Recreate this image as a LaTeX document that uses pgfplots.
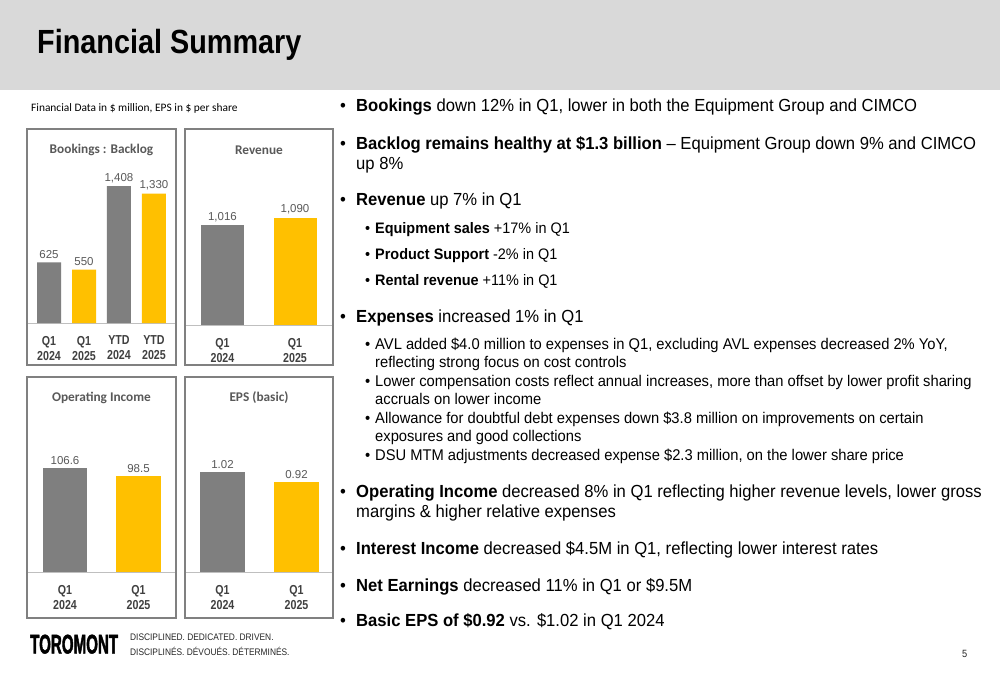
\documentclass[border=0pt]{standalone}
\usepackage{fontspec}
\setmainfont{Liberation Sans}
\newfontfamily\narrowfont[FakeStretch=0.82]{Liberation Sans}
\newfontfamily\bodyfont[FakeStretch=0.95]{Liberation Sans}
\newfontfamily\footfont[FakeStretch=0.88]{Liberation Sans}
\newfontfamily\titlefont[FakeStretch=0.86]{Liberation Sans}
\newfontfamily\logofont[FakeStretch=0.56,FakeBold=1.5]{Liberation Sans}
\newfontfamily\calibri{Carlito}
\usepackage{pgfplots}
\pgfplotsset{compat=1.18}

\definecolor{band}{HTML}{D9D9D9}
\definecolor{bargray}{HTML}{7F7F7F}
\definecolor{baryellow}{HTML}{FFC000}
\definecolor{boxgray}{HTML}{808080}
\definecolor{baseline}{HTML}{BFBFBF}
\definecolor{valgray}{HTML}{595959}
\definecolor{ticktext}{HTML}{404040}
\definecolor{titlegray}{HTML}{595959}
\definecolor{foot}{HTML}{262626}

\pgfplotsset{
  minibar/.style={
    scale only axis, ybar, ymin=0,
    enlargelimits=false,
    axis x line*=bottom, axis y line*=left,
    x axis line style={draw=baseline, line width=1pt},
    y axis line style={draw=none},
    major tick length=0pt, ytick=\empty,
    xticklabel style={align=center, text=ticktext, yshift=-9.5pt,
      font=\narrowfont\bfseries\fontsize{13}{15}\selectfont},
    title style={at={(0.5,1)}, anchor=center, yshift=-27pt, text=titlegray,
      font=\calibri\bfseries\fontsize{13.3}{15}\selectfont},
    nodes near coords,
    every node near coord/.append style={text=valgray,
      font=\fontsize{11.5}{13}\selectfont},
    /pgf/number format/assume math mode=true,
    /pgf/number format/fixed,
    /pgf/number format/1000 sep={,},
  },
  gbar/.style={fill=bargray, draw=none, bar shift=0pt, bar width=#1},
  ybarc/.style={fill=baryellow, draw=none, bar shift=0pt, bar width=#1},
}

% positions are in px of the 1000x685 slide, 1px = 1pt, y downward
\newcommand{\bul}[4]{%
  \node[anchor=base west, inner sep=0] at (#1pt,-#3pt) {•};
  \node[anchor=base west, inner sep=0] at (#2pt,-#3pt) {#4};}
\newcommand{\cont}[3]{%
  \node[anchor=base west, inner sep=0] at (#1pt,-#2pt) {#3};}

\begin{document}
\begin{tikzpicture}
\fill[white] (0pt,0pt) rectangle (1000pt,-685pt);
\fill[band] (0pt,0pt) rectangle (1000pt,-90pt);
\node[anchor=base west, inner sep=0, font=\titlefont\bfseries\fontsize{33.5}{36}\selectfont]
  at (37pt,-53pt) {Financial Summary};
\node[anchor=base west, inner sep=0, font=\calibri\fontsize{11.4}{13}\selectfont]
  at (31pt,-111.5pt) {Financial Data in \$ million, EPS in \$ per share};

% Bookings : Backlog
\begin{axis}[minibar, at={(27pt,-323pt)}, anchor=south west,
  width=149pt, height=194pt, xmin=-0.63, xmax=3.63, ymax=1996,
  xtick={0,1,2,3},
  xticklabels={{Q1\\2024},{Q1\\2025},{YTD\\2024},{YTD\\2025}},
  title={Bookings : Backlog}]
\addplot[gbar=0.686] coordinates {(0,625) (2,1408)};
\addplot[ybarc=0.686] coordinates {(1,550) (3,1330)};
\end{axis}

% Revenue
\begin{axis}[minibar, at={(185pt,-325pt)}, anchor=south west,
  width=148pt, height=196pt, xmin=-0.517, xmax=1.524, ymax=1994,
  xtick={0,1}, xticklabels={{Q1\\2024},{Q1\\2025}},
  title={Revenue}]
\addplot[gbar=0.593] coordinates {(0,1016)};
\addplot[ybarc=0.593] coordinates {(1,1090)};
\end{axis}

% Operating Income
\begin{axis}[minibar, at={(27pt,-572pt)}, anchor=south west,
  width=149pt, height=195pt, xmin=-0.517, xmax=1.51, ymax=200,
  xtick={0,1}, xticklabels={{Q1\\2024},{Q1\\2025}},
  title={Operating Income},
  /pgf/number format/fixed zerofill, /pgf/number format/precision=1]
\addplot[gbar=0.6] coordinates {(0,106.6)};
\addplot[ybarc=0.6] coordinates {(1,98.5)};
\end{axis}

% EPS (basic)
\begin{axis}[minibar, at={(185pt,-572pt)}, anchor=south west,
  width=148pt, height=195pt, xmin=-0.507, xmax=1.493, ymax=1.99,
  xtick={0,1}, xticklabels={{Q1\\2024},{Q1\\2025}},
  title={EPS (basic)},
  /pgf/number format/fixed zerofill, /pgf/number format/precision=2]
\addplot[gbar=0.61] coordinates {(0,1.02)};
\addplot[ybarc=0.61] coordinates {(1,0.92)};
\end{axis}

\draw[boxgray, line width=1.3pt] (27pt,-129pt) rectangle (176pt,-365pt);
\draw[boxgray, line width=1.3pt] (185pt,-129pt) rectangle (333pt,-365pt);
\draw[boxgray, line width=1.3pt] (27pt,-377pt) rectangle (176pt,-618pt);
\draw[boxgray, line width=1.3pt] (185pt,-377pt) rectangle (333pt,-618pt);

% commentary
\begin{scope}[font=\bodyfont\fontsize{17.5}{20}\selectfont]
\bul{340}{356}{111.5}{\textbf{Bookings} down 12\% in Q1, lower in both the Equipment Group and CIMCO}
\bul{340}{356}{149.5}{\textbf{Backlog remains healthy at \$1.3 billion} – Equipment Group down 9\% and CIMCO}
\cont{356}{169.5}{up 8\%}
\bul{340}{356}{205.5}{\textbf{Revenue} up 7\% in Q1}
\bul{340}{356}{322.5}{\textbf{Expenses} increased 1\% in Q1}
\bul{340}{356}{497.5}{\textbf{Operating Income} decreased 8\% in Q1 reflecting higher revenue levels, lower gross}
\cont{356}{517.5}{margins \& higher relative expenses}
\bul{340}{356}{554.5}{\textbf{Interest Income} decreased \$4.5M in Q1, reflecting lower interest rates}
\bul{340}{356}{591.5}{\textbf{Net Earnings} decreased 11\% in Q1 or \$9.5M}
\bul{340}{356}{626.5}{\textbf{Basic EPS of \$0.92} vs. \$1.02 in Q1 2024}
\end{scope}
\begin{scope}[font=\bodyfont\fontsize{15.2}{17}\selectfont]
\bul{365}{375}{233}{\textbf{Equipment sales} +17\% in Q1}
\bul{365}{375}{259}{\textbf{Product Support} -2\% in Q1}
\bul{365}{375}{285}{\textbf{Rental revenue} +11\% in Q1}
\end{scope}
\begin{scope}[font=\bodyfont\fontsize{15.5}{17}\selectfont]
\bul{365}{375}{349}{AVL added \$4.0 million to expenses in Q1, excluding AVL expenses decreased 2\% YoY,}
\cont{375}{367}{reflecting strong focus on cost controls}
\bul{365}{375}{386}{Lower compensation costs reflect annual increases, more than offset by lower profit sharing}
\cont{375}{404}{accruals on lower income}
\bul{365}{375}{423}{Allowance for doubtful debt expenses down \$3.8 million on improvements on certain}
\cont{375}{441}{exposures and good collections}
\bul{365}{375}{460}{DSU MTM adjustments decreased expense \$2.3 million, on the lower share price}
\end{scope}

% footer
\node[anchor=base west, inner sep=0, font=\logofont\bfseries\fontsize{27}{28}\selectfont]
  at (30pt,-653.5pt) {TOROMONT};
\node[anchor=base west, inner sep=0, text=foot, align=left,
  font=\footfont\fontsize{9.5}{15}\selectfont]
  at (130pt,-655.5pt) {DISCIPLINED. DEDICATED. DRIVEN.\\DISCIPLINÉS. DÉVOUÉS. DÉTERMINÉS.};
\node[anchor=base west, inner sep=0, text=foot, font=\footfont\fontsize{10.5}{12}\selectfont]
  at (962pt,-657pt) {5};
\end{tikzpicture}
\end{document}
